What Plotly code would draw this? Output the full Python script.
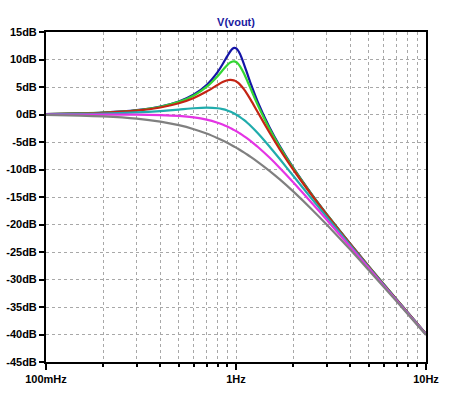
import plotly.graph_objects as go

freq = [0.1, 0.15, 0.2, 0.3, 0.4, 0.5, 0.6, 0.7, 0.8, 0.85, 0.9, 0.93, 0.96, 0.98,
        1.0, 1.02, 1.05, 1.1, 1.15, 1.2, 1.3, 1.5, 1.7, 2, 2.5, 3, 4, 5, 7, 10]

blue = [0.08, 0.19, 0.34, 0.79, 1.45, 2.38, 3.64, 5.37, 7.71, 9.13, 10.62, 11.41, 11.96, 12.11,
        12.04, 11.76, 11.00, 9.22, 7.29, 5.47, 2.35, -2.31, -5.74, -9.66, -14.46, -18.10, -23.54, -27.62, -33.63, -39.92]
green = [0.08, 0.19, 0.33, 0.77, 1.41, 2.29, 3.47, 5.02, 6.97, 8.03, 8.99, 9.42, 9.64, 9.66,
         9.54, 9.31, 8.76, 7.48, 6.00, 4.52, 1.78, -2.58, -5.90, -9.75, -14.51, -18.13, -23.56, -27.63, -33.64, -39.92]
red = [0.08, 0.17, 0.31, 0.70, 1.28, 2.04, 3.01, 4.17, 5.38, 5.89, 6.22, 6.30, 6.26, 6.17,
       6.02, 5.82, 5.43, 4.60, 3.62, 2.57, 0.46, -3.27, -6.33, -10.00, -14.64, -18.21, -23.60, -27.65, -33.65, -39.92]
cyan = [0.04, 0.10, 0.17, 0.37, 0.63, 0.90, 1.14, 1.25, 1.14, 0.97, 0.73, 0.54, 0.33, 0.17,
        0.00, -0.18, -0.47, -0.98, -1.54, -2.13, -3.36, -5.81, -8.10, -11.14, -15.29, -18.63, -23.82, -27.79, -33.72, -39.96]
magenta = [0.00, 0.00, -0.01, -0.04, -0.11, -0.26, -0.53, -0.94, -1.49, -1.82, -2.19, -2.43, -2.67, -2.84,
           -3.01, -3.19, -3.46, -3.92, -4.39, -4.88, -5.86, -7.83, -9.71, -12.30, -16.03, -19.14, -24.10, -27.97, -33.81, -40.00]
gray = [-0.09, -0.19, -0.34, -0.75, -1.29, -1.94, -2.67, -3.46, -4.30, -4.72, -5.15, -5.41, -5.67, -5.85,
        -6.02, -6.19, -6.46, -6.89, -7.32, -7.75, -8.60, -10.24, -11.80, -13.98, -17.21, -20.00, -24.61, -28.30, -33.98, -40.09]

series = [
    ("Q=4", blue, "#1414a6"),
    ("Q=3", green, "#33d633"),
    ("Q=2", red, "#c42414"),
    ("Q=1", cyan, "#20acac"),
    ("Q=0.707", magenta, "#e434e4"),
    ("Q=0.5", gray, "#808080"),
]

y_ticks = [15, 10, 5, 0, -5, -10, -15, -20, -25, -30, -35, -40, -45]
y_labels = ["15dB", "10dB", "5dB", "0dB", "-5dB", "-10dB", "-15dB", "-20dB",
            "-25dB", "-30dB", "-35dB", "-40dB", "-45dB"]
x_major = [0.1, 1, 10]
x_major_labels = ["100mHz", "1Hz", "10Hz"]
x_minor = [0.2, 0.3, 0.4, 0.5, 0.6, 0.7, 0.8, 0.9, 2, 3, 4, 5, 6, 7, 8, 9]

fig = go.Figure()
for name, vals, col in series:
    fig.add_trace(go.Scatter(x=freq, y=vals, mode="lines", name=name,
                             line=dict(color=col, width=2.2, shape="spline", smoothing=0.6),
                             showlegend=False, hoverinfo="skip"))

font = dict(family="Liberation Sans, Arial, sans-serif", size=11, color="#000000", weight="bold")

fig.update_layout(
    width=451, height=394,
    margin=dict(l=46, r=25, t=32, b=32, autoexpand=False),
    paper_bgcolor="white", plot_bgcolor="white",
    title=dict(text="V(vout)", x=236 / 451, xanchor="center",
               y=1 - 22 / 394, yanchor="middle",
               font=dict(family="Liberation Sans, Arial, sans-serif", size=11,
                         color="#1a1aa0", weight="bold")),
    font=font,
)

fig.update_xaxes(
    type="log", range=[-1, 1],
    tickvals=x_major, ticktext=x_major_labels,
    ticks="outside", ticklen=6, tickwidth=1.5, tickcolor="black",
    showline=True, linecolor="black", linewidth=2, mirror=True,
    showgrid=True, gridcolor="#a8a8a8", griddash="dot", gridwidth=1,
    minor=dict(tickvals=x_minor, ticks="outside", ticklen=3, tickwidth=1.5, tickcolor="black",
               showgrid=True, gridcolor="#a8a8a8", griddash="dot", gridwidth=1),
    zeroline=False, tickfont=font, automargin=False,
)
fig.update_yaxes(
    range=[-45, 15],
    tickvals=y_ticks, ticktext=y_labels,
    ticks="outside", ticklen=5, tickwidth=1.5, tickcolor="black",
    showline=True, linecolor="black", linewidth=2, mirror=True,
    showgrid=True, gridcolor="#a8a8a8", griddash="dot", gridwidth=1,
    zeroline=False, tickfont=font, automargin=False,
)

fig.write_html("out.html",
               config={"displayModeBar": False},
               post_script="document.body.style.margin='0';document.body.style.padding='0';")
